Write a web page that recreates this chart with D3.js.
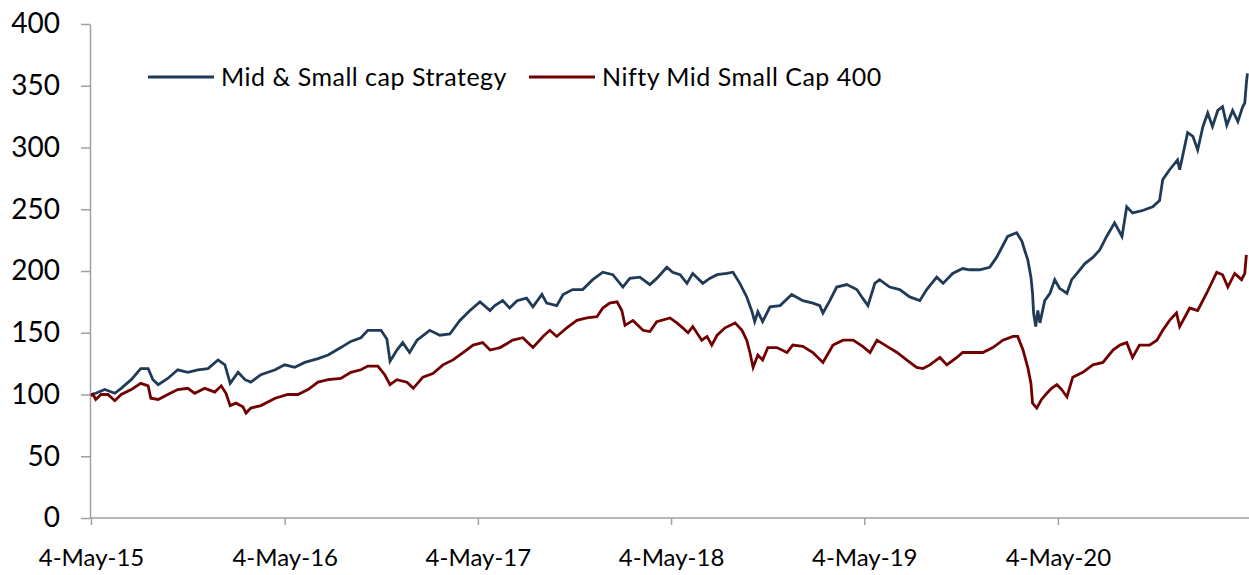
<!DOCTYPE html>
<html>
<head>
<meta charset="utf-8">
<script src="https://cdn.jsdelivr.net/npm/d3@7"></script>
<style>
  html, body { margin: 0; padding: 0; background: #fff; }
  svg { display: block; font-family: Lato, "Open Sans", sans-serif; }
</style>
</head>
<body>
<div id="chart"></div>
<script>
// Series (index, 4-May-15 = 100)
const strategyDates = [
  '2015-05-04','2015-05-13','2015-05-30','2015-06-18','2015-06-30','2015-07-19','2015-08-06','2015-08-20',
  '2015-08-29','2015-09-08','2015-09-26','2015-10-15','2015-11-03','2015-11-22','2015-12-11','2015-12-30',
  '2016-01-12','2016-01-22','2016-02-06','2016-02-19','2016-03-01','2016-03-20','2016-04-16','2016-05-04',
  '2016-05-23','2016-06-11','2016-07-06','2016-07-25','2016-08-18','2016-09-06','2016-09-25','2016-10-08',
  '2016-11-02','2016-11-13','2016-11-19','2016-12-02','2016-12-13','2016-12-26','2017-01-09','2017-02-02',
  '2017-02-21','2017-03-12','2017-03-31','2017-04-19','2017-05-08','2017-05-27','2017-06-05','2017-06-20',
  '2017-07-03','2017-07-17','2017-08-04','2017-08-16','2017-09-02','2017-09-11','2017-09-30','2017-10-12',
  '2017-10-30','2017-11-18','2017-12-07','2017-12-26','2018-01-14','2018-02-02','2018-02-15','2018-03-06',
  '2018-03-25','2018-04-07','2018-04-26','2018-05-07','2018-05-21','2018-06-03','2018-06-14','2018-07-03',
  '2018-07-16','2018-07-30','2018-08-17','2018-08-29','2018-09-11','2018-09-24','2018-10-04','2018-10-09',
  '2018-10-15','2018-10-24','2018-11-07','2018-11-26','2018-12-18','2019-01-08','2019-01-27','2019-02-09',
  '2019-02-15','2019-02-28','2019-03-13','2019-04-01','2019-04-20','2019-05-01','2019-05-11','2019-05-24',
  '2019-06-02','2019-06-21','2019-07-10','2019-07-29','2019-08-17','2019-08-30','2019-09-18','2019-09-30',
  '2019-10-18','2019-11-06','2019-11-19','2019-12-08','2019-12-27','2020-01-09','2020-01-19','2020-01-30',
  '2020-02-16','2020-02-26','2020-03-02','2020-03-08','2020-03-14','2020-03-17','2020-03-19','2020-03-23',
  '2020-03-27','2020-03-31','2020-04-09','2020-04-19','2020-04-28','2020-05-07','2020-05-21','2020-05-30',
  '2020-06-09','2020-06-24','2020-07-09','2020-07-22','2020-08-04','2020-08-19','2020-09-02','2020-09-11',
  '2020-09-22','2020-10-11','2020-10-30','2020-11-12','2020-11-18','2020-12-01','2020-12-16','2020-12-20',
  '2021-01-04','2021-01-14','2021-01-23','2021-02-02','2021-02-11','2021-02-20','2021-03-02','2021-03-11',
  '2021-03-19','2021-03-30','2021-04-09','2021-04-18','2021-04-22','2021-04-25','2021-04-27'
];
const strategyValues = [
  100,101,104,101,105,112,121,121,
  112,108,113,120,118,120,121,128,
  124,109,118,112,110,116,120,124,
  122,126,129,132,138,143,146,152,
  152,145,127,136,142,134,144,152,
  148,149,160,168,175,168,172,176,
  170,176,178,171,181,174,172,181,
  185,185,193,199,197,187,194,195,
  189,194,203,199,197,190,198,190,
  194,197,198,199,190,179,167,159,
  167,159,171,172,181,176,174,172,
  166,176,187,189,185,178,172,190,
  193,187,185,179,176,185,195,190,
  198,202,201,201,203,211,219,228,
  231,224,217,209,195,182,166,155,
  168,158,176,182,193,186,182,193,
  198,206,211,217,228,239,228,252,
  247,249,252,257,274,282,290,282,
  312,309,298,317,328,317,330,333,
  318,330,321,333,336,352,360
];

const niftyDates = [
  '2015-05-04','2015-05-08','2015-05-13','2015-05-23','2015-06-05','2015-06-18','2015-06-30','2015-07-19',
  '2015-08-06','2015-08-20','2015-08-25','2015-09-08','2015-09-26','2015-10-15','2015-11-03','2015-11-16',
  '2015-12-05','2015-12-24','2016-01-05','2016-01-14','2016-01-22','2016-02-02','2016-02-15','2016-02-21',
  '2016-03-01','2016-03-20','2016-04-16','2016-05-10','2016-05-29','2016-06-17','2016-07-06','2016-07-25',
  '2016-08-18','2016-09-06','2016-09-25','2016-10-08','2016-10-27','2016-11-09','2016-11-19','2016-12-02',
  '2016-12-21','2017-01-02','2017-01-20','2017-02-08','2017-02-27','2017-03-18','2017-04-06','2017-04-25',
  '2017-05-13','2017-05-27','2017-06-15','2017-07-09','2017-07-28','2017-08-16','2017-09-04','2017-09-17',
  '2017-09-30','2017-10-19','2017-11-07','2017-11-26','2017-12-15','2017-12-26','2018-01-08','2018-01-22',
  '2018-01-31','2018-02-06','2018-02-21','2018-03-12','2018-03-25','2018-04-07','2018-05-02','2018-05-15',
  '2018-05-26','2018-06-05','2018-06-14','2018-07-01','2018-07-11','2018-07-20','2018-07-30','2018-08-14',
  '2018-09-02','2018-09-15','2018-09-24','2018-09-30','2018-10-06','2018-10-15','2018-10-24','2018-11-03',
  '2018-11-20','2018-12-09','2018-12-20','2019-01-08','2019-01-27','2019-02-15','2019-03-06','2019-03-25',
  '2019-04-13','2019-05-01','2019-05-15','2019-05-28','2019-06-16','2019-07-05','2019-07-23','2019-08-11',
  '2019-08-23','2019-09-05','2019-09-24','2019-10-07','2019-10-26','2019-11-06','2019-11-25','2019-12-14',
  '2020-01-02','2020-01-21','2020-02-09','2020-02-18','2020-02-28','2020-03-08','2020-03-14','2020-03-17',
  '2020-03-25','2020-04-03','2020-04-13','2020-04-22','2020-05-02','2020-05-11','2020-05-21','2020-06-01',
  '2020-06-20','2020-07-09','2020-07-28','2020-08-16','2020-08-29','2020-09-11','2020-09-22','2020-10-05',
  '2020-10-24','2020-11-07','2020-11-18','2020-12-01','2020-12-14','2020-12-20','2021-01-08','2021-01-23',
  '2021-02-09','2021-02-28','2021-03-11','2021-03-21','2021-04-03','2021-04-16','2021-04-22','2021-04-25'
];
const niftyValues = [
  99,100,96,100,100,95,100,104,
  109,107,97,96,100,104,105,101,
  105,102,107,101,91,93,90,85,
  89,91,97,100,100,104,110,112,
  113,118,120,123,123,116,108,112,
  110,105,114,117,124,128,134,140,
  142,136,138,144,146,138,147,152,
  147,154,160,162,163,170,174,175,
  168,156,160,152,151,159,162,158,
  154,150,155,144,147,140,148,154,
  158,152,144,134,122,132,128,138,
  138,134,140,139,134,126,140,144,
  144,139,134,144,139,134,128,122,
  121,124,130,124,130,134,134,134,
  138,144,147,147,136,122,109,93,
  89,96,101,105,108,104,98,114,
  118,124,126,136,140,142,130,140,
  140,144,152,160,166,155,170,168,
  182,199,197,187,198,193,198,213
];

const seriesNames = ['Mid & Small cap Strategy', 'Nifty Mid Small Cap 400'];
const seriesColors = ['#1f3b57', '#730000'];
const yTicks = [0, 50, 100, 150, 200, 250, 300, 350, 400];
const xTickDates = ['2015-05-04','2016-05-04','2017-05-04','2018-05-04','2019-05-04','2020-05-04'];

const width = 1249, height = 575;
const margin = { left: 91, right: 0, top: 24, bottom: 57 };
const parse = d3.timeParse('%Y-%m-%d');

const series = [
  strategyDates.map((d, i) => ({ date: parse(d), value: strategyValues[i] })),
  niftyDates.map((d, i) => ({ date: parse(d), value: niftyValues[i] })),
];

const svg = d3.select('#chart').append('svg')
  .attr('width', width)
  .attr('height', height);

const x = d3.scaleTime()
  .domain([parse('2015-05-04'), parse('2021-04-30')])
  .range([margin.left, width - margin.right]);

const y = d3.scaleLinear()
  .domain([0, 400])
  .range([height - margin.bottom, margin.top]);

const axisColor = '#a0a0a0';

// Y axis
const yAxis = svg.append('g')
  .attr('transform', `translate(${margin.left - 1},0)`)
  .call(d3.axisLeft(y).tickValues(yTicks).tickSize(9).tickPadding(21).tickSizeOuter(0));
yAxis.select('.domain').attr('stroke', axisColor).attr('stroke-width', 1.5);
yAxis.selectAll('.tick line').attr('stroke', axisColor).attr('stroke-width', 1.5);
yAxis.selectAll('.tick text')
  .attr('fill', '#000')
  .style('font-family', 'Lato, "Open Sans", sans-serif')
  .style('font-size', '28px');

// X axis
const xAxis = svg.append('g')
  .attr('transform', `translate(0,${height - margin.bottom})`)
  .call(d3.axisBottom(x)
    .tickValues(xTickDates.map(parse))
    .tickFormat(d3.timeFormat('%-d-%b-%y'))
    .tickSize(7).tickPadding(24).tickSizeOuter(0));
xAxis.select('.domain').attr('stroke', axisColor).attr('stroke-width', 1.5)
  .attr('d', `M${margin.left - 1},0H${width}`);
xAxis.selectAll('.tick line').attr('stroke', axisColor).attr('stroke-width', 1.5);
xAxis.selectAll('.tick text')
  .attr('fill', '#000')
  .style('font-family', 'Lato, "Open Sans", sans-serif')
  .style('font-size', '24px');

// Lines
const line = d3.line()
  .x(d => x(d.date))
  .y(d => y(d.value));

svg.append('g')
  .selectAll('path')
  .data(series)
  .join('path')
  .attr('fill', 'none')
  .attr('stroke', (d, i) => seriesColors[i])
  .attr('stroke-width', 2.8)
  .attr('stroke-linejoin', 'miter')
  .attr('d', line);

// Legend
const legend = svg.append('g').attr('transform', 'translate(148,77)');
let lx = 0;
seriesNames.forEach((name, i) => {
  const item = legend.append('g').attr('transform', `translate(${lx},0)`);
  item.append('line')
    .attr('x1', 0).attr('x2', 66)
    .attr('stroke', seriesColors[i])
    .attr('stroke-width', 2.8);
  const t = item.append('text')
    .attr('x', 73)
    .attr('dy', '0.35em')
    .style('font-size', '25px')
    .style('letter-spacing', '0.5px')
    .attr('fill', '#000')
    .text(name);
  lx += 73 + t.node().getComputedTextLength() + 22;
});
</script>
</body>
</html>
